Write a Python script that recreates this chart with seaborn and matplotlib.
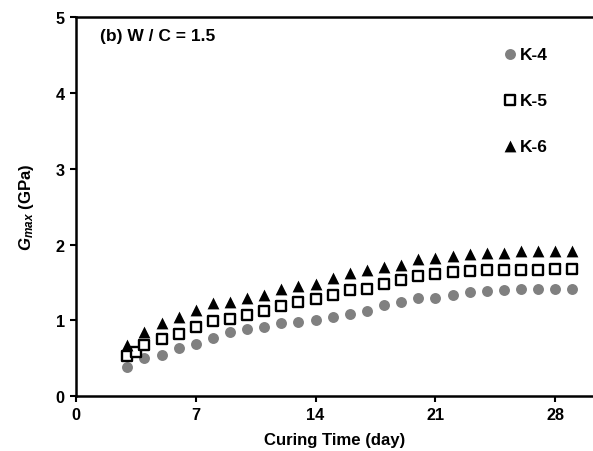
import matplotlib
matplotlib.use("Agg")
import matplotlib.pyplot as plt
import pandas as pd
import seaborn as sns

# data
days_k4 = list(range(3, 30))
gmax_k4 = [0.39, 0.50, 0.55, 0.64, 0.69, 0.77, 0.85, 0.89, 0.92, 0.96,
           0.98, 1.01, 1.05, 1.09, 1.13, 1.20, 1.24, 1.29, 1.30, 1.33,
           1.37, 1.39, 1.40, 1.42, 1.42, 1.42, 1.42]

days_k5 = [3, 3.5] + list(range(4, 30))
gmax_k5 = [0.53, 0.59, 0.68, 0.76, 0.82, 0.91, 0.99, 1.02, 1.07, 1.13,
           1.19, 1.25, 1.28, 1.34, 1.40, 1.42, 1.48, 1.53, 1.59, 1.61,
           1.64, 1.65, 1.66, 1.67, 1.67, 1.67, 1.68, 1.68]

days_k6 = list(range(3, 30))
gmax_k6 = [0.67, 0.85, 0.97, 1.04, 1.14, 1.23, 1.24, 1.30, 1.33, 1.41,
           1.46, 1.48, 1.56, 1.63, 1.66, 1.70, 1.73, 1.81, 1.83, 1.85,
           1.87, 1.89, 1.89, 1.91, 1.91, 1.91, 1.92]

x_ticks = [0, 7, 14, 21, 28]
y_ticks = [0, 1, 2, 3, 4, 5]

sns.set_theme(style="ticks")
plt.rcParams.update({
    "font.family": ["Liberation Sans", "DejaVu Sans"],
    "font.weight": "bold",
    "font.size": 12.5,
    "axes.labelsize": 12.1,
    "xtick.labelsize": 11.7,
    "ytick.labelsize": 11.7,
    "legend.fontsize": 12.5,
    "text.color": "black",
    "axes.labelcolor": "black",
    "xtick.color": "black",
    "ytick.color": "black",
    "mathtext.fontset": "custom",
    "mathtext.it": "Liberation Sans:italic",
    "mathtext.bfit": "Liberation Sans:italic:bold",
    "mathtext.rm": "Liberation Sans:bold",
    "mathtext.bf": "Liberation Sans:bold",
})

fig = plt.figure(figsize=(5.93, 4.52), dpi=100)
ax = fig.add_axes([0.128, 0.121, 0.872, 0.839])

series = [
    ("K-4", days_k4, gmax_k4, dict(marker="o", color="#808080", edgecolor="#808080", s=62, linewidth=0)),
    ("K-5", days_k5, gmax_k5, dict(marker="s", color="white", edgecolor="black", s=52, linewidth=1.7)),
    ("K-6", days_k6, gmax_k6, dict(marker="^", color="black", edgecolor="black", s=72, linewidth=0)),
]
for name, xs, ys, style in series:
    df = pd.DataFrame({"day": xs, "gmax": ys})
    sns.scatterplot(data=df, x="day", y="gmax", ax=ax, label=name, zorder=3, **style)

ax.set_xlim(0, 30.2)
ax.set_ylim(0, 5)
ax.set_xticks(x_ticks)
ax.set_yticks(y_ticks)
ax.set_xlabel("Curing Time (day)", fontweight="bold", labelpad=7)
ax.set_ylabel(r"$\mathbfit{G}_{max}$ (GPa)", fontweight="bold", labelpad=14)
ax.tick_params(direction="out", length=4, width=1.5, pad=4)
for lab in ax.get_xticklabels() + ax.get_yticklabels():
    lab.set_fontweight("bold")

for side in ("left", "bottom", "top"):
    ax.spines[side].set_linewidth(1.8)
    ax.spines[side].set_color("black")
ax.spines["right"].set_visible(False)

ax.text(0.046, 0.97, "(b) W / C = 1.5", transform=ax.transAxes,
        ha="left", va="top", fontweight="bold")

leg = ax.legend(loc="upper left", bbox_to_anchor=(0.81, 0.94), frameon=False,
                labelspacing=1.78, handletextpad=0.05, handlelength=1.0,
                borderaxespad=0, markerscale=1.0)
for t in leg.get_texts():
    t.set_fontweight("bold")

fig.savefig("out.png", dpi=100, facecolor="white")
